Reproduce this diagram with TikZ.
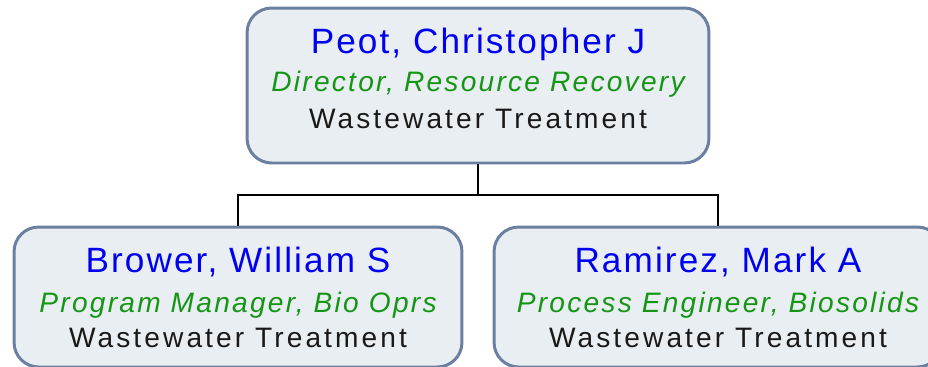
\documentclass[tikz,border=0pt]{standalone}
\usepackage{fontspec}
\setmainfont{Liberation Sans}
\newfontfamily\namefont[LetterSpace=6]{Liberation Sans}
\newfontfamily\titlefont[LetterSpace=8]{Liberation Sans}
\newfontfamily\deptfont[LetterSpace=11]{Liberation Sans}

\definecolor{boxfill}{HTML}{E9EEF2}
\definecolor{boxline}{HTML}{6B7FA0}
\definecolor{namecol}{HTML}{0000F0}
\definecolor{titlecol}{HTML}{149614}

\tikzset{
  person/.style={draw=boxline, fill=boxfill, line width=1.7pt, rounded corners=14pt, inner sep=0pt},
  pname/.style={anchor=base, text=namecol, font=\namefont\fontsize{20}{22}\selectfont},
  ptitle/.style={anchor=base, text=titlecol, font=\titlefont\itshape\fontsize{16}{18}\selectfont},
  pdept/.style={anchor=base, text=black!90, font=\deptfont\fontsize{16}{18}\selectfont},
  link/.style={line width=1.5pt}
}

\begin{document}
\begin{tikzpicture}[x=0.02cm,y=-0.02cm]
\useasboundingbox (0,0) rectangle (928,366);
% boxes
\node[person, minimum width=9.24cm, minimum height=3.1cm] (peot) at (478,85.5) {};
\node[person, minimum width=8.96cm, minimum height=2.8cm] (brower) at (238,297) {};
\node[person, minimum width=8.96cm, minimum height=2.8cm] (ramirez) at (718,297) {};
% connectors
\coordinate (split) at (478,195);
\draw[link] (peot.south) -- (split);
\draw[link] (brower.north) |- (split) -| (ramirez.north);
% texts
\node[pname] (peotname) at (478,53) {Peot, Christopher J};
\node[ptitle] (peottitle) at (478,91) {Director, Resource Recovery};
\node[pdept] (peotdept) at (478,128) {Wastewater Treatment};
\node[pname] (browername) at (238,272) {Brower, William S};
\node[ptitle] (browertitle) at (238,312) {Program Manager, Bio Oprs};
\node[pdept] (browerdept) at (238,347) {Wastewater Treatment};
\node[pname] (ramirezname) at (718,272) {Ramirez, Mark A};
\node[ptitle] (ramireztitle) at (718,312) {Process Engineer, Biosolids};
\node[pdept] (ramirezdept) at (718,347) {Wastewater Treatment};
\end{tikzpicture}
\end{document}
